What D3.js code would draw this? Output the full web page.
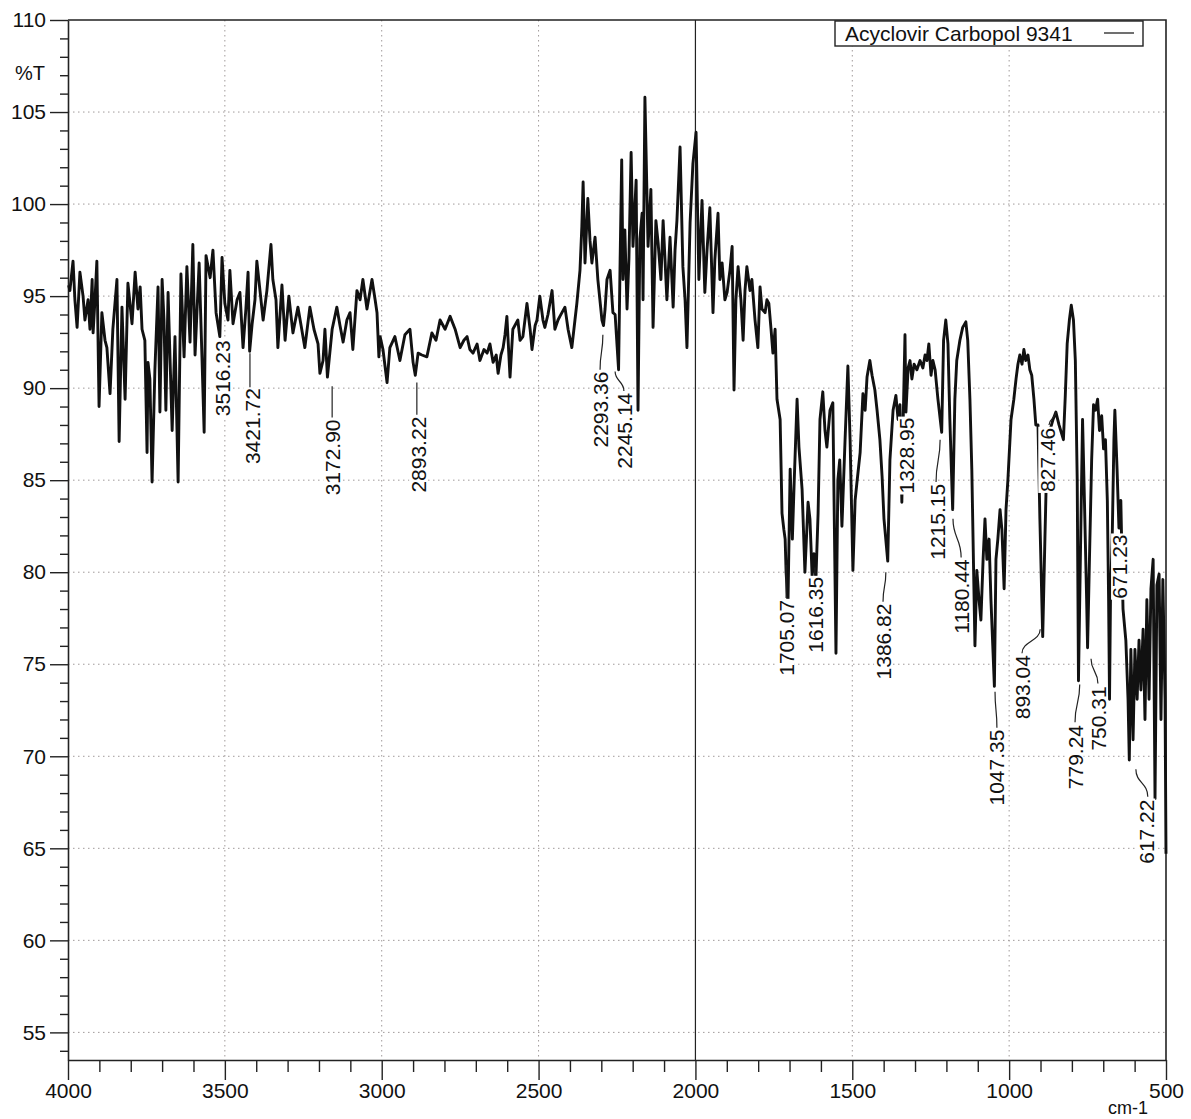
<!DOCTYPE html>
<html>
<head>
<meta charset="utf-8">
<script src="https://cdn.jsdelivr.net/npm/d3@7"></script>
<style>
  body { margin: 0; background: #fff; }
  svg text { font-family: "Liberation Sans", Arial, sans-serif; fill: #111; }
</style>
</head>
<body>
<div id="chart"></div>
<script>
// --- DATA (wavenumber cm-1, %T) ---
const spectrumA = [ // 4000 - 3000
  [3998,95.6],[3994,95.3],[3984,96.9],[3978,94.8],[3971,93.3],[3962,96.3],[3952,95.0],[3946,93.7],[3936,94.8],[3930,93.2],
  [3923,95.9],[3920,93.0],[3914,94.8],[3908,96.9],[3901,89.0],[3892,94.1],[3882,92.6],[3876,92.2],[3866,89.7],[3857,93.2],
  [3844,95.9],[3837,87.1],[3828,94.4],[3818,89.4],[3809,95.7],[3796,93.5],[3786,96.3],[3777,94.3],[3770,95.5],[3764,93.2],
  [3755,92.6],[3748,86.5],[3745,91.4],[3739,90.5],[3732,84.9],[3723,91.0],[3713,95.5],[3707,88.7],[3700,95.9],[3694,93.7],
  [3688,88.8],[3681,95.2],[3668,87.7],[3659,92.8],[3649,84.9],[3640,96.2],[3630,91.7],[3621,96.6],[3611,92.5],[3602,97.8],
  [3595,91.8],[3582,96.8],[3573,91.7],[3566,87.6],[3560,97.2],[3547,96.0],[3538,97.5],[3528,94.1],[3516,92.8],[3509,97.1],
  [3500,94.6],[3490,93.7],[3484,96.4],[3474,93.5],[3461,94.8],[3452,95.2],[3442,92.2],[3433,94.3],[3426,96.3],[3421,92.0],
  [3413,93.5],[3404,94.8],[3398,96.9],[3388,95.3],[3378,93.7],[3366,95.3],[3353,97.8],[3347,95.9],[3337,94.8],[3331,92.2],
  [3318,95.6],[3308,92.6],[3296,95.0],[3283,93.0],[3267,94.4],[3257,93.4],[3245,92.2],[3229,94.4],[3216,93.2],[3203,92.4],
  [3197,90.8],[3187,91.5],[3181,93.2],[3173,90.6],[3158,93.2],[3143,94.4],[3133,93.4],[3123,92.5],[3111,93.7],[3101,94.1],
  [3092,92.1],[3079,95.3],[3069,94.8],[3060,95.9],[3047,94.3],[3031,95.9],[3021,94.8],[3015,94.1],[3009,91.7]
];
const spectrumB = [ // 3000 - 2360
  [3005,92.8],[2996,92.1],[2983,90.3],[2974,92.2],[2958,92.8],[2942,91.5],[2926,92.9],[2910,93.2],[2900,91.4],[2893,90.7],
  [2884,91.9],[2872,91.8],[2856,91.7],[2840,93.0],[2827,92.6],[2814,93.7],[2798,93.2],[2782,93.9],[2766,93.2],[2750,92.2],
  [2738,92.6],[2728,92.8],[2719,92.1],[2709,91.9],[2696,92.4],[2687,91.5],[2674,92.1],[2664,91.9],[2655,92.4],[2645,91.4],
  [2635,91.8],[2629,90.8],[2620,91.8],[2613,92.2],[2607,92.9],[2601,93.9],[2591,90.6],[2582,93.2],[2566,93.7],[2559,92.6],
  [2550,92.8],[2537,94.6],[2527,93.2],[2521,92.1],[2511,93.4],[2505,93.7],[2496,95.0],[2486,93.7],[2480,93.3],[2470,94.0],
  [2457,95.3],[2448,93.2],[2438,93.7],[2432,93.9],[2416,94.4],[2406,93.2],[2394,92.2],[2384,93.7],[2378,94.6],[2368,96.4],
  [2362,98.8]
];
const spectrumC = [ // 2360 - 1730
  [2358,101.2],[2352,96.8],[2346,99.1],[2343,100.3],[2336,98.0],[2330,96.8],[2320,98.2],[2311,95.9],[2298,93.7],[2293,93.4],
  [2288,94.3],[2282,95.9],[2272,96.4],[2263,94.1],[2256,94.0],[2245,91.0],[2240,97.0],[2235,102.4],[2231,95.9],[2225,98.6],
  [2218,94.3],[2212,97.0],[2205,102.8],[2199,97.7],[2189,101.3],[2183,88.8],[2177,98.1],[2170,99.5],[2167,94.8],[2161,105.8],
  [2151,97.7],[2142,100.8],[2135,93.3],[2126,99.1],[2119,97.9],[2110,95.9],[2103,99.1],[2097,97.0],[2091,94.8],[2081,98.2],
  [2071,94.4],[2065,97.5],[2059,99.1],[2049,103.1],[2040,96.6],[2033,94.8],[2027,92.2],[2017,99.0],[2008,102.2],[1998,103.9],
  [1989,95.9],[1979,100.2],[1970,95.2],[1963,97.5],[1954,99.8],[1944,94.1],[1938,97.0],[1928,99.5],[1922,95.9],[1915,96.8],
  [1906,94.8],[1899,95.2],[1890,96.4],[1883,97.7],[1877,89.9],[1871,94.8],[1864,96.6],[1855,94.8],[1848,92.6],[1842,95.3],
  [1836,96.6],[1826,95.3],[1820,95.9],[1810,93.7],[1801,92.2],[1794,95.5],[1788,94.3],[1778,94.1],[1772,94.8],[1766,94.6],
  [1759,93.2],[1753,91.9],[1746,93.2],[1740,89.4],[1730,88.3]
];
const spectrumD = [ // 1730 - 500
  [1724,83.2],[1718,82.3],[1714,81.8],[1711,80.0],[1705,78.3],[1701,82.5],[1698,85.6],[1691,81.8],[1685,85.0],[1676,89.4],
  [1670,86.8],[1660,84.5],[1651,80.0],[1641,83.8],[1635,82.9],[1628,79.8],[1622,81.0],[1616,79.6],[1609,83.2],[1603,88.3],
  [1594,89.8],[1587,87.7],[1581,86.8],[1571,88.8],[1562,89.2],[1552,75.6],[1546,85.0],[1540,86.1],[1533,82.5],[1523,87.2],
  [1514,91.2],[1507,87.2],[1498,80.1],[1491,83.9],[1485,84.9],[1475,86.5],[1466,89.7],[1459,88.8],[1453,90.6],[1444,91.5],
  [1437,90.7],[1428,89.9],[1421,88.8],[1412,87.2],[1405,85.2],[1399,82.9],[1387,80.6],[1380,86.1],[1370,88.8],[1361,89.6],
  [1354,88.3],[1348,89.1],[1345,86.5],[1342,83.8],[1338,88.0],[1335,90.5],[1332,92.9],[1329,88.7],[1322,91.1],[1316,91.5],
  [1310,90.5],[1303,91.3],[1294,91.0],[1284,91.5],[1275,91.1],[1268,91.8],[1262,91.5],[1256,92.4],[1249,90.7],[1243,91.5],
  [1236,91.0],[1227,89.4],[1215,87.6],[1209,92.6],[1202,93.7],[1195,92.4],[1189,88.3],[1180,83.4],[1173,89.4],[1167,91.5],
  [1157,92.6],[1148,93.3],[1138,93.6],[1132,92.6],[1125,89.4],[1119,85.6],[1109,76.0],[1103,80.1],[1096,78.5],[1090,77.4],
  [1083,80.7],[1077,82.9],[1071,80.7],[1064,81.8],[1058,78.5],[1047,73.8],[1042,80.7],[1036,81.8],[1029,83.4],[1023,82.3],
  [1016,79.1],[1010,83.4],[1004,85.0],[994,88.3],[985,89.4],[978,90.5],[972,91.3],[966,91.8],[959,91.3],[953,92.1],
  [947,91.5],[940,91.8],[934,91.0],[928,90.7],[921,89.4],[915,88.0],[908,88.0],[902,82.9],[893,76.5],[886,81.8],
  [879,86.8],[870,87.7],[860,88.3],[851,88.7],[841,88.0],[827,87.2],[821,89.6],[815,92.4],[808,93.7],[802,94.5],
  [795,93.7],[789,91.5],[783,85.0],[779,74.1],[773,80.7],[766,88.3],[760,83.9],[753,78.5],[750,75.9],[744,80.7],
  [737,86.1],[731,89.1],[725,88.8],[718,89.4],[712,87.7],[705,88.5],[699,86.7],[693,87.2],[687,83.9],[683,78.6],
  [680,73.1],[677,78.5],[671,82.3],[666,87.2],[663,88.8],[656,85.6],[650,82.4],[644,83.9],[637,78.0],[628,76.3],
  [621,73.1],[617,69.8],[612,75.8],[605,70.9],[599,75.8],[592,73.1],[586,76.3],[580,73.6],[573,76.9],[567,72.0],
  [561,78.5],[554,73.1],[548,79.1],[541,80.7],[535,67.7],[529,79.3],[522,79.9],[516,72.0],[510,79.6],[503,73.1],
  [500,64.7]
];

// peak annotations
const peakLabels = ["3516.23","3421.72","3172.90","2893.22","2293.36","2245.14","1705.07","1616.35","1386.82","1328.95",
                    "1215.15","1180.44","1047.35","893.04","827.46","779.24","750.31","671.23","617.22"];
const labelWn   = [3509,3413,3158,2884,2304,2225,1711,1619,1402,1326,1230,1153,1039,959,879,790,714,647,561];
const labelTopT = [92.6,90.0,88.3,88.45,90.9,89.75,78.5,79.75,78.3,88.4,84.8,80.7,71.45,75.5,87.85,71.7,73.8,82.05,67.65];
// leader: [wn, %T] start near the band, end near the text (null = none)
const leaderFrom = [null,[3420,91.9],[3158,90.1],[2888,90.3],[2295,92.9],[2256,90.9],[1711,80.4],[1619,80.25],[1393,80.0],null,
                    [1220,87.2],[1179,82.9],[1045,73.5],[901,76.9],[851,88.7],[775,73.9],[739,75.3],null,[596,69.3]];
const leaderTo   = [null,[3420,90.05],[3158,88.4],[2888,88.55],[2304,91.0],[2228,89.85],[1711,78.6],[1619,79.9],[1402,78.4],null,
                    [1233,84.9],[1153,80.8],[1039,71.55],[959,75.6],[873,88.0],[790,71.85],[717,73.95],null,[558,67.8]];

const xTicks = d3.range(4000, 499, -500);
const xMinor = d3.range(4000, 499, -100).filter(v => v % 500);
const yTicks = d3.range(55, 111, 5);
const yMinor = d3.range(54, 111, 1).filter(v => v % 5);
const gridX = [3500, 3000, 2500, 1500, 1000];
const breakWn = 2000;
const legendText = "Acyclovir Carbopol 9341";

// --- SETUP ---
const width = 1191, height = 1119;
const FONT = 21;
const svg = d3.select("#chart").append("svg").attr("width", width).attr("height", height);

const x = d3.scaleLinear().domain([4000, 500]).range([68, 1166]);
const y = d3.scaleLinear().domain([53.5, 110]).range([1060, 20]);

// grid (dotted)
const grid = svg.append("g").attr("stroke", "#a09a9a").attr("stroke-width", 1).attr("stroke-dasharray", "1.5,3.5");
grid.selectAll("line.gx").data(gridX).join("line")
    .attr("x1", d => x(d)).attr("x2", d => x(d)).attr("y1", y(110)).attr("y2", y(53.5));
grid.selectAll("line.gy").data(yTicks.filter(v => v < 110)).join("line").attr("class", "gy")
    .attr("x1", x(4000)).attr("x2", x(500)).attr("y1", d => y(d)).attr("y2", d => y(d));

// 2000 cm-1 break line and frame
svg.append("line").attr("x1", x(breakWn)).attr("x2", x(breakWn)).attr("y1", y(110)).attr("y2", y(53.5))
    .attr("stroke", "#222").attr("stroke-width", 1.2);
svg.append("path")
    .attr("d", `M${x(4000)},${y(110)}H${x(500)}V${y(53.5)}`)
    .attr("fill", "none").attr("stroke", "#222").attr("stroke-width", 1.6);

// axes
function styleAxis(g) {
    g.select(".domain").attr("stroke", "#222").attr("stroke-width", 1.6);
    g.selectAll(".tick line").attr("stroke", "#222").attr("stroke-width", 1.4);
    g.selectAll("text").attr("font-size", FONT).attr("font-family", null).attr("fill", "#111");
}
svg.append("g").attr("transform", `translate(${x(4000)},0)`)
    .call(d3.axisLeft(y).tickValues(yMinor).tickSize(8).tickFormat("").tickSizeOuter(0))
    .call(g => g.select(".domain").remove())
    .call(styleAxis);
svg.append("g").attr("transform", `translate(${x(4000)},0)`)
    .call(d3.axisLeft(y).tickValues(yTicks).tickSize(18).tickPadding(4).tickSizeOuter(0).tickFormat(d3.format("d")))
    .call(styleAxis);
svg.append("g").attr("transform", `translate(0,${y(53.5)})`)
    .call(d3.axisBottom(x).tickValues(xMinor).tickSize(12).tickFormat("").tickSizeOuter(0))
    .call(g => g.select(".domain").remove())
    .call(styleAxis);
svg.append("g").attr("transform", `translate(0,${y(53.5)})`)
    .call(d3.axisBottom(x).tickValues(xTicks).tickSize(20).tickPadding(3).tickSizeOuter(0).tickFormat(d3.format("d")))
    .call(styleAxis);

svg.append("text").attr("x", 30).attr("y", 80).attr("text-anchor", "middle").attr("font-size", 20).text("%T");
svg.append("text").attr("x", 1128).attr("y", 1114).attr("text-anchor", "middle").attr("font-size", 18).text("cm-1");

// spectrum
const spectrum = [...spectrumA, ...spectrumB, ...spectrumC, ...spectrumD];
const line = d3.line().x(d => x(d[0])).y(d => y(d[1]));
svg.append("path").datum(spectrum)
    .attr("d", line)
    .attr("fill", "none").attr("stroke", "#111").attr("stroke-width", 2.9)
    .attr("stroke-linejoin", "round");

// peak labels, rotated, printed on a white knock-out like the plotter does
const labels = svg.append("g").selectAll("g").data(peakLabels).join("g")
    .attr("transform", (d, i) => `translate(${x(labelWn[i])},${y(labelTopT[i])}) rotate(-90)`);
labels.append("text")
    .attr("text-anchor", "end")
    .attr("dy", "0.36em")
    .attr("font-size", FONT)
    .text(d => d);
labels.each(function() {
    const g = d3.select(this);
    const bb = g.select("text").node().getBBox();
    g.insert("rect", "text")
        .attr("x", bb.x - 1).attr("y", -0.42 * FONT)
        .attr("width", bb.width + 2).attr("height", 0.82 * FONT)
        .attr("fill", "#fff");
});

// leaders
const leaders = svg.append("g").attr("fill", "none").attr("stroke", "#222").attr("stroke-width", 1.2);
peakLabels.forEach((lab, i) => {
    if (!leaderFrom[i]) return;
    const [x0, y0] = [x(leaderFrom[i][0]), y(leaderFrom[i][1])];
    const [x1, y1] = [x(leaderTo[i][0]), y(leaderTo[i][1])];
    const p = d3.path();
    p.moveTo(x0, y0);
    const ym = (y0 + y1) / 2;
    p.bezierCurveTo(x0, ym, x1, ym, x1, y1);
    leaders.append("path").attr("d", p.toString());
});

// legend
const lg = svg.append("g");
lg.append("rect").attr("x", 835).attr("y", 21).attr("width", 308).attr("height", 25)
    .attr("fill", "#fff").attr("stroke", "#222").attr("stroke-width", 1.4);
lg.append("text").attr("x", 845).attr("y", 41).attr("font-size", FONT).text(legendText);
lg.append("line").attr("x1", 1104).attr("x2", 1134).attr("y1", 33).attr("y2", 33)
    .attr("stroke", "#222").attr("stroke-width", 1.3);
</script>
</body>
</html>
